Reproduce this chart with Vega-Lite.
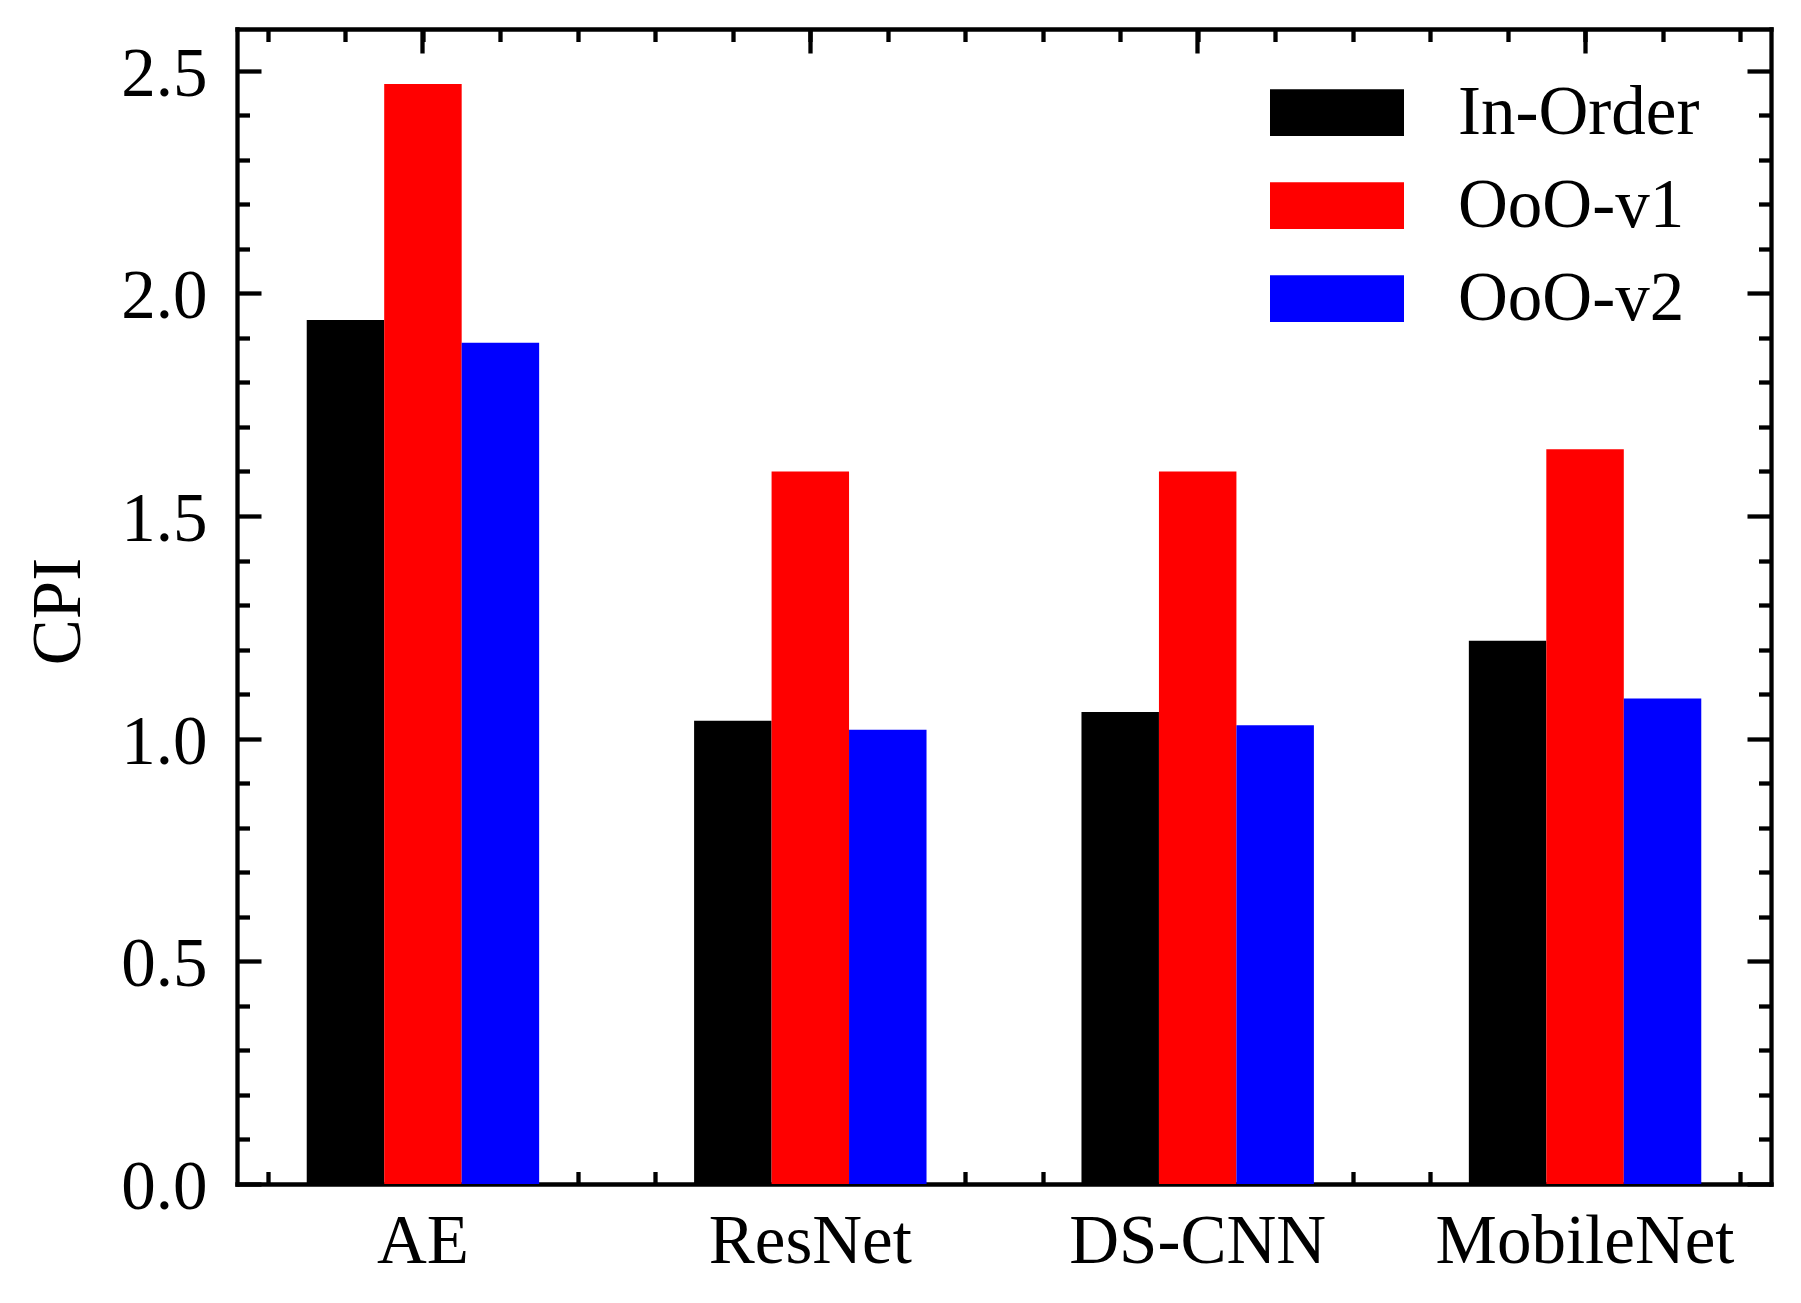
{
  "$schema": "https://vega.github.io/schema/vega-lite/v6.json",
  "width": 1534,
  "height": 1155,
  "autosize": {"type": "none"},
  "padding": {"left": 237, "top": 29, "right": 30, "bottom": 119},
  "background": "white",
  "config": {
    "font": "Liberation Serif",
    "view": {"stroke": null},
    "axis": {
      "labelFont": "Liberation Serif",
      "labelFontSize": 69,
      "labelColor": "black",
      "labelLimit": 1000,
      "titleFont": "Liberation Serif",
      "titleFontSize": 69,
      "titleColor": "black",
      "titleFontWeight": "normal",
      "domainColor": "black",
      "tickColor": "black",
      "domainWidth": 4.3,
      "tickWidth": 4.3,
      "domainCap": "square",
      "grid": false,
      "zindex": 1
    },
    "legend": {
      "orient": "none",
      "legendX": 1033,
      "legendY": 37.25,
      "direction": "vertical",
      "title": null,
      "symbolType": "M-1,-0.3485L1,-0.3485L1,0.3485L-1,0.3485Z",
      "symbolSize": 17956,
      "symbolStrokeWidth": 0,
      "symbolOpacity": 1,
      "clipHeight": 92.9,
      "rowPadding": 0,
      "padding": 0,
      "labelFont": "Liberation Serif",
      "labelFontSize": 69,
      "labelColor": "black",
      "labelOffset": 54,
      "labelLimit": 600
    }
  },
  "data": {
    "values": [
      {"model": "AE", "core": "In-Order", "CPI": 1.94},
      {"model": "AE", "core": "OoO-v1", "CPI": 2.47},
      {"model": "AE", "core": "OoO-v2", "CPI": 1.889},
      {"model": "ResNet", "core": "In-Order", "CPI": 1.04},
      {"model": "ResNet", "core": "OoO-v1", "CPI": 1.6},
      {"model": "ResNet", "core": "OoO-v2", "CPI": 1.02},
      {"model": "DS-CNN", "core": "In-Order", "CPI": 1.06},
      {"model": "DS-CNN", "core": "OoO-v1", "CPI": 1.6},
      {"model": "DS-CNN", "core": "OoO-v2", "CPI": 1.03},
      {"model": "MobileNet", "core": "In-Order", "CPI": 1.22},
      {"model": "MobileNet", "core": "OoO-v1", "CPI": 1.65},
      {"model": "MobileNet", "core": "OoO-v2", "CPI": 1.09}
    ]
  },
  "layer": [
    {
      "mark": {"type": "bar"},
      "encoding": {
        "x": {
          "field": "model",
          "type": "nominal",
          "sort": ["AE", "ResNet", "DS-CNN", "MobileNet"],
          "scale": {"type": "band", "paddingInner": 0.4, "paddingOuter": 0.18},
          "axis": {"orient": "bottom", "title": null, "labelAngle": 0, "tickSize": -24, "labelPadding": 47, "labelBaseline": "top", "labelLimit": 1000, "domain": true}
        },
        "xOffset": {
          "field": "core",
          "type": "nominal",
          "sort": ["In-Order", "OoO-v1", "OoO-v2"],
          "scale": {"paddingInner": 0, "paddingOuter": 0}
        },
        "y": {
          "field": "CPI",
          "type": "quantitative",
          "scale": {"domain": [0, 2.5935], "nice": false, "zero": true},
          "axis": {
            "orient": "left",
            "values": [0, 0.5, 1, 1.5, 2, 2.5],
            "format": ".1f",
            "tickSize": -24,
            "labelPadding": 54,
            "labelOffset": 3.5,
            "domain": true,
            "title": "CPI",
            "titleAngle": 270,
            "titleBaseline": "alphabetic",
            "titleX": -158,
            "titleY": 582
          }
        },
        "color": {
          "field": "core",
          "type": "nominal",
          "sort": ["In-Order", "OoO-v1", "OoO-v2"],
          "scale": {"domain": ["In-Order", "OoO-v1", "OoO-v2"], "range": ["#000000", "#ff0000", "#0000ff"]}
        }
      }
    },
    {
      "mark": {"type": "point", "opacity": 0},
      "encoding": {
        "x": {
          "field": "CPI",
          "type": "quantitative",
          "scale": {"domain": [-0.48, 3.48], "nice": false, "zero": false},
          "axis": {"orient": "bottom", "title": null, "labels": false, "domain": false, "tickSize": -12.5,
                   "values": [-0.4, -0.2, 0, 0.2, 0.4, 0.6, 0.8, 1, 1.2, 1.4, 1.6, 1.8, 2, 2.2, 2.4, 2.6, 2.8, 3, 3.2, 3.4]}
        },
        "y": {
          "field": "CPI",
          "type": "quantitative",
          "scale": {"domain": [0, 2.5935], "nice": false, "zero": true},
          "axis": {"orient": "right", "title": null, "labels": false, "domain": true, "tickSize": -24, "values": [0, 0.5, 1, 1.5, 2, 2.5]}
        }
      }
    },
    {
      "mark": {"type": "point", "opacity": 0},
      "encoding": {
        "x": {
          "field": "CPI",
          "type": "quantitative",
          "scale": {"domain": [-0.48, 3.48], "nice": false, "zero": false},
          "axis": {"orient": "top", "title": null, "labels": false, "domain": false, "tickSize": -12.5,
                   "values": [-0.4, -0.2, 0, 0.2, 0.4, 0.6, 0.8, 1, 1.2, 1.4, 1.6, 1.8, 2, 2.2, 2.4, 2.6, 2.8, 3, 3.2, 3.4]}
        },
        "y": {
          "field": "CPI",
          "type": "quantitative",
          "scale": {"domain": [0, 2.5935], "nice": false, "zero": true},
          "axis": {"orient": "left", "title": null, "labels": false, "domain": false, "tickSize": -12.5,
                   "values": [0.1, 0.2, 0.3, 0.4, 0.6, 0.7, 0.8, 0.9, 1.1, 1.2, 1.3, 1.4, 1.6, 1.7, 1.8, 1.9, 2.1, 2.2, 2.3, 2.4]}
        }
      }
    },
    {
      "mark": {"type": "point", "opacity": 0},
      "encoding": {
        "x": {
          "field": "model",
          "type": "nominal",
          "sort": ["AE", "ResNet", "DS-CNN", "MobileNet"],
          "scale": {"type": "band", "paddingInner": 0.4, "paddingOuter": 0.18},
          "axis": {"orient": "top", "title": null, "labels": false, "domain": true, "tickSize": -24}
        },
        "y": {
          "field": "CPI",
          "type": "quantitative",
          "scale": {"domain": [0, 2.5935], "nice": false, "zero": true},
          "axis": {"orient": "right", "title": null, "labels": false, "domain": false, "tickSize": -12.5,
                   "values": [0.1, 0.2, 0.3, 0.4, 0.6, 0.7, 0.8, 0.9, 1.1, 1.2, 1.3, 1.4, 1.6, 1.7, 1.8, 1.9, 2.1, 2.2, 2.3, 2.4]}
        }
      }
    }
  ],
  "resolve": {
    "scale": {"x": "independent", "y": "shared"},
    "axis": {"x": "independent", "y": "independent"}
  }
}
